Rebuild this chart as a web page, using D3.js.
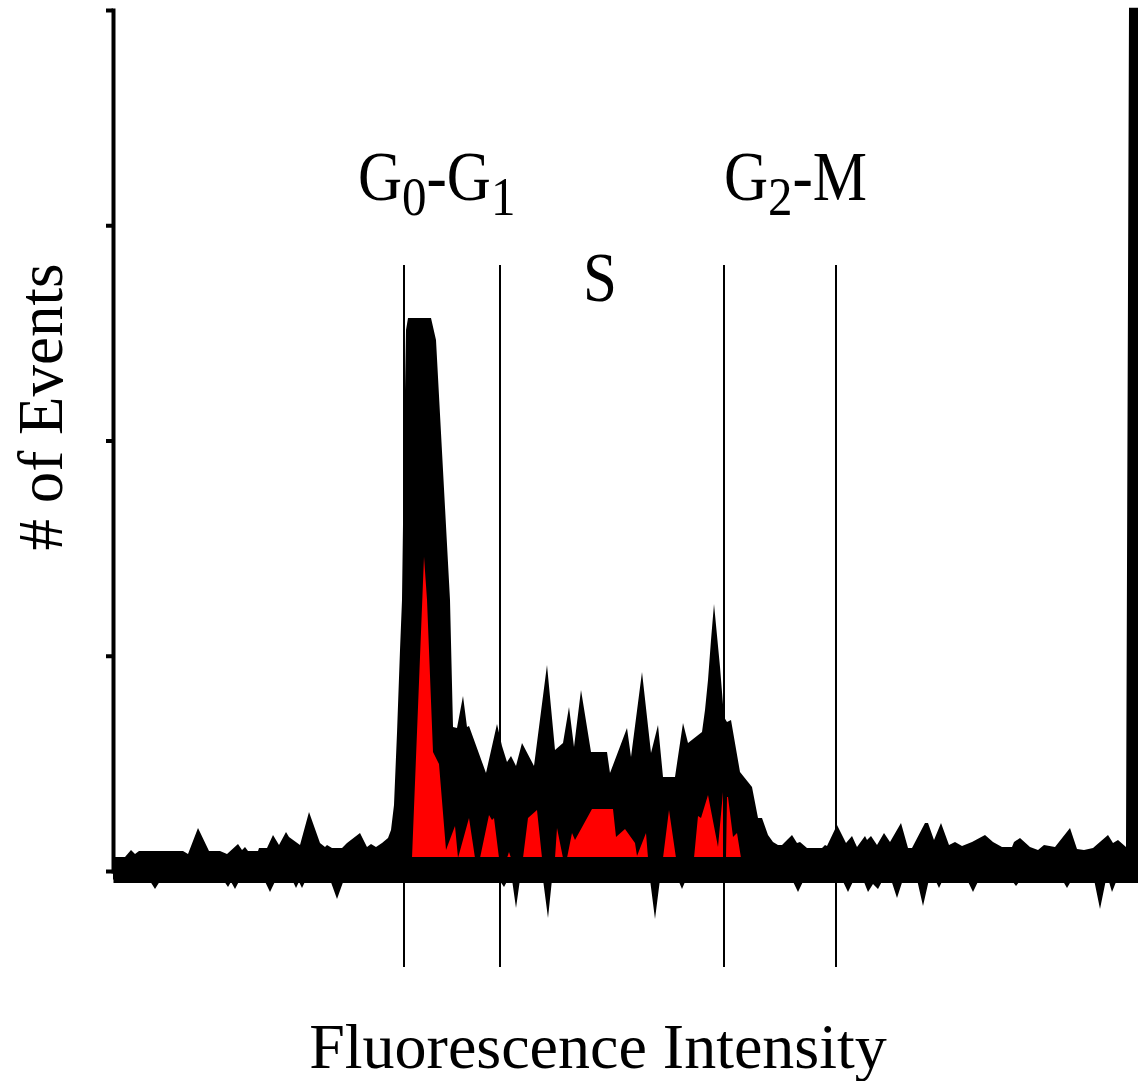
<!DOCTYPE html>
<html>
<head>
<meta charset="utf-8">
<script src="https://cdn.jsdelivr.net/npm/d3@7"></script>
<style>
  body { margin: 0; background: #fff; }
  text { font-family: "Liberation Serif", "Times New Roman", serif; fill: #000; }
</style>
</head>
<body>
<div id="chart"></div>
<script>
// ---- data (channel, # of events) ----
const yTicks = [0, 100, 200, 300, 400];
const gateChannels = [291, 387, 611, 723];

// all events, top of the histogram
const totalTop = [
  [0, 6.5], [12, 6.5], [18, 9.8], [22, 7.9], [26, 9.3], [70, 9.3], [75, 7.9], [85, 20], [96, 9.3],
  [107, 9.3], [114, 7.9], [125, 12.5], [129, 9.8], [132, 11.1], [135, 9.3], [145, 9.3], [146, 10.7],
  [154, 10.7], [160, 16.7], [166, 12.1], [173, 18.1], [176, 15.8], [187, 12.1], [196, 27.4], [207, 13],
  [212, 11.1], [214, 12.1], [219, 10.7], [229, 10.7], [234, 13], [247, 17.7], [254, 11.1], [258, 12.5],
  [263, 11.1], [269, 13], [275, 15.3], [278, 19], [281, 30.7], [284, 64.1], [287, 102.7], [289, 125.9],
  [291, 195.6], [293, 251.3], [295, 256.9], [318, 256.9], [323, 246.7], [337, 125.9], [340, 66.9],
  [344, 66.4], [350, 81.3], [354, 66.9], [356, 67.4], [373, 45.5], [384, 68.3], [389, 58.1], [394, 50.6],
  [398, 53.4], [403, 48.8], [409, 59.5], [421, 48.8], [434, 95.7], [442, 56.2], [450, 59.5], [456, 76.2],
  [461, 57.6], [468, 84.1], [478, 55.3], [494, 55.3], [497, 45.5], [514, 66.4], [518, 53], [529, 92.5],
  [538, 54.8], [545, 67.8], [550, 43.7], [562, 43.7], [570, 68.8], [575, 59.5], [589, 64.6], [592, 74.8],
  [595, 88.7], [598, 107.3], [601, 124], [607, 94.8], [611, 71.5], [614, 69.2], [618, 70.2], [627, 46],
  [635, 41.3], [639, 39], [645, 24.6], [649, 24.6], [655, 16.7], [660, 13.5], [665, 12.1], [669, 12.1],
  [679, 16.7], [684, 13], [687, 13.5], [694, 10.7], [709, 10.7], [712, 12.1], [714, 11.6], [724, 21.4],
  [733, 13], [739, 16.3], [744, 11.1], [752, 16.3], [754, 14.4], [758, 16.3], [764, 12.1], [771, 17.7],
  [777, 13.5], [788, 22.3], [795, 10.7], [799, 10.7], [812, 22.3], [815, 22.3], [821, 14.4], [828, 22.3],
  [836, 12.1], [842, 13.5], [849, 11.6], [859, 13.5], [872, 16.7], [880, 13.5], [889, 11.1], [899, 11.1],
  [901, 13.5], [907, 15.3], [917, 11.1], [925, 9.8], [931, 12.1], [942, 11.1], [957, 20], [964, 10.2],
  [971, 9.8], [980, 10.7], [995, 16.7], [1000, 13], [1005, 14.4], [1013, 11.1], [1016, 401], [1025, 401]
];

// all events, dips under the baseline
const totalDips = [
  [0, -4], [36, -4], [42, -8.4], [48, -4], [110, -4], [115, -7.4], [118, -5], [122, -8.4], [127, -4],
  [151, -4], [157, -9.8], [163, -4], [179, -4], [183, -7.9], [186, -5], [189, -7.9], [193, -4], [217, -4],
  [224, -13], [231, -4], [386, -4], [391, -7.4], [395, -4], [399, -4], [403, -17.2], [407, -4], [430, -4],
  [435, -21.8], [439, -4], [537, -4], [542, -22.3], [547, -4], [565, -4], [569, -8.4], [573, -4], [679, -4],
  [685, -9.8], [691, -4], [729, -4], [735, -9.8], [741, -4], [750, -4], [755, -9.8], [760, -6], [765, -8.4],
  [770, -4], [778, -4], [784, -12.5], [790, -4], [804, -4], [810, -16.3], [816, -4], [822, -4], [826, -7.9],
  [830, -4], [854, -4], [860, -9.8], [866, -4], [898, -4], [903, -7], [908, -4], [949, -4], [954, -7.9],
  [959, -4], [981, -4], [987, -17.7], [993, -4], [996, -5], [999, -9.8], [1004, -4], [1025, -4]
];

// gated population (red)
const gatedCounts = [
  [299, 6], [311, 146], [314, 126], [320, 55.3], [326, 49.7], [333, 9.8], [342, 20.9], [345, 6],
  [356, 24.6], [362, 6], [367, 6], [376, 26], [379, 23.7], [381, 24.6], [386, 6], [394, 6], [396, 8.8],
  [398, 6], [410, 6], [415, 24.6], [424, 28.3], [429, 6], [442, 6], [444, 20], [450, 6], [454, 6],
  [459, 17.7], [462, 14.4], [479, 28.8], [500, 28.8], [503, 15.8], [512, 19.5], [522, 13], [524, 7],
  [533, 17.7], [535, 6], [550, 6], [556, 28.3], [563, 6], [581, 6], [585, 25.6], [588, 24.6], [595, 35.3],
  [605, 11.1], [610, 36.7], [611, 6], [613, 6], [614, 34.4], [615, 34.4], [620, 15.8], [624, 17.7], [628, 6]
];

// phase labels: [text, subscript?]
const phaseNames = [
  [["G", 0], ["0", 1], ["-G", 0], ["1", 1]],
  [["S", 0]],
  [["G", 0], ["2", 1], ["-M", 0]]
];

// ---- layout ----
const W = 1138, H = 1081;
const labelPos = [{ ch: 245, y: 200 }, { ch: 470, y: 301 }, { ch: 611, y: 200 }];

const svg = d3.select("#chart")
  .append("svg")
  .attr("width", W)
  .attr("height", H);

const x = d3.scaleLinear().domain([0, 1025]).range([113, 1138]);
const y = d3.scaleLinear().domain([0, 400]).range([871, 10]);

const area = d3.area()
  .x(d => x(d[0]))
  .y0(y(0))
  .y1(d => y(d[1]));

svg.append("path").datum(totalTop).attr("d", area).attr("fill", "#000");
svg.append("path").datum(totalDips).attr("d", area).attr("fill", "#000");
svg.append("path").datum(gatedCounts).attr("d", area).attr("fill", "#ff0000");

// thick baseline
const xAxis = svg.append("g")
  .attr("transform", `translate(0,${y(0) - 1.5})`)
  .call(d3.axisBottom(x).tickValues([]).tickSizeOuter(0));
xAxis.select(".domain").attr("stroke", "#000").attr("stroke-width", 26);

// left axis
const yAxis = svg.append("g")
  .attr("transform", `translate(${x(0)},0)`)
  .call(d3.axisLeft(y).tickValues(yTicks).tickSize(7).tickSizeOuter(0).tickFormat(""));
yAxis.select(".domain").attr("stroke-width", 4).attr("stroke-linecap", "square");
yAxis.selectAll(".tick line").attr("stroke-width", 4);

// gates
svg.selectAll(".gate")
  .data(gateChannels)
  .join("line")
  .attr("class", "gate")
  .attr("x1", d => x(d)).attr("x2", d => x(d))
  .attr("y1", 265).attr("y2", 967)
  .attr("stroke", "#000")
  .attr("stroke-width", 2);

// phase labels
phaseNames.forEach((parts, i) => {
  const t = svg.append("text")
    .attr("transform", `translate(${x(labelPos[i].ch)},${labelPos[i].y}) scale(1,1.13)`)
    .style("font-size", "61px");
  let sub = 0;
  parts.forEach(([s, isSub]) => {
    t.append("tspan")
      .attr("dy", isSub === sub ? 0 : (isSub ? 13 : -13))
      .style("font-size", isSub ? "49px" : null)
      .text(s);
    sub = isSub;
  });
});

// axis titles
svg.append("text")
  .attr("x", 598)
  .attr("y", 1068)
  .attr("text-anchor", "middle")
  .style("font-size", "64px")
  .text("Fluorescence Intensity");

svg.append("text")
  .attr("transform", "translate(62,407) rotate(-90)")
  .attr("text-anchor", "middle")
  .style("font-size", "63px")
  .text("# of Events");
</script>
</body>
</html>
